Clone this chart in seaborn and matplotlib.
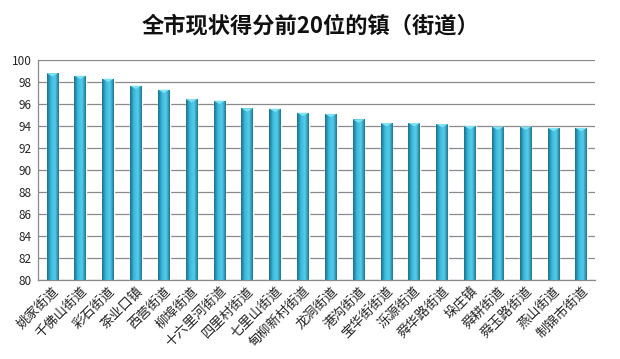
import numpy as np
import pandas as pd
import seaborn as sns
import matplotlib.pyplot as plt

# Data
towns = ["姚家街道", "千佛山街道", "彩石街道", "茶业口镇", "西营街道",
         "柳埠街道", "十六里河街道", "四里村街道", "七里山街道", "甸柳新村街道",
         "龙洞街道", "港沟街道", "宝华街街道", "泺源街道", "舜华路街道",
         "垛庄镇", "舜耕街道", "舜玉路街道", "燕山街道", "制锦市街道"]
scores = [98.8, 98.57, 98.3, 97.66, 97.3,
          96.45, 96.3, 95.6, 95.57, 95.2,
          95.1, 94.6, 94.27, 94.27, 94.18,
          94.0, 93.94, 93.94, 93.82, 93.82]
yticks = list(range(80, 101, 2))

df = pd.DataFrame({"town": towns, "score": scores})

sns.set_theme(style="white")
plt.rcParams['font.family'] = ['Noto Sans CJK SC', 'DejaVu Sans']

fig, ax = plt.subplots(figsize=(6.2, 3.59), dpi=100)
fig.subplots_adjust(left=0.062, right=0.96, top=0.833, bottom=0.22)

sns.barplot(data=df, x="town", y="score", color="#2fa6c9", width=0.42,
            ax=ax, zorder=3)

# horizontal shading on each bar (light left side, dark edges)
grad = np.linspace(0, 1, 64)
cmap = plt.matplotlib.colors.LinearSegmentedColormap.from_list(
    "bar", ["#1c6f8c", "#3bb9dc", "#55cdea", "#1f7895"])
for p in ax.patches:
    x0 = p.get_x()
    w, h = p.get_width(), p.get_height()
    im = ax.imshow(grad[None, :], cmap=cmap, aspect="auto",
                   extent=(x0, x0 + w, 80, p.get_y() + h), zorder=4)
    im.set_clip_path(p)
    # light triangle cap at bar top
    top = p.get_y() + h
    ax.fill([x0, x0 + w, x0 + w / 2], [top, top, top - 0.3],
            color="#7fe3f5", zorder=5, lw=0)
ax.set_xlim(-0.5, len(towns) - 0.5)
ax.set_ylim(80, 100)
ax.set_yticks(yticks)
ax.tick_params(axis="y", labelsize=8.5, length=3, color="#888888", pad=2)
ax.tick_params(axis="x", length=0, pad=3)
ax.set_xticks(range(len(towns)))
ax.set_xticklabels(towns, rotation=45, ha="right", rotation_mode="anchor",
                   fontsize=9.5, color="#222222")
ax.set_xlabel("")
ax.set_ylabel("")
ax.grid(axis="y", color="#8a8a8a", linewidth=0.9, zorder=0)
for side in ["top", "right"]:
    ax.spines[side].set_visible(False)
for side in ["left", "bottom"]:
    ax.spines[side].set_color("#8a8a8a")
    ax.spines[side].set_linewidth(0.9)

fig.suptitle("全市现状得分前20位的镇（街道）", fontsize=16, y=0.96,
             color="#111111", fontweight="bold")

fig.savefig("out.png", dpi=100)
